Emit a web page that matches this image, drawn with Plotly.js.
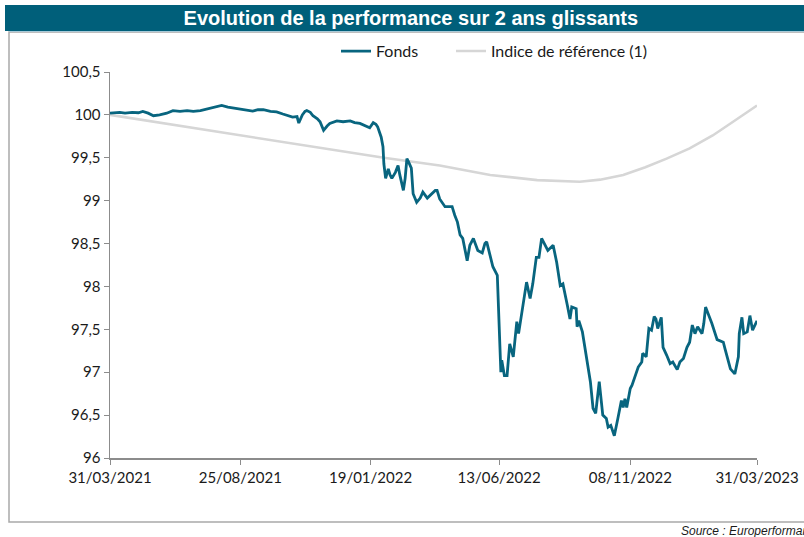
<!DOCTYPE html>
<html>
<head>
<meta charset="utf-8">
<script src="https://cdn.plot.ly/plotly-3.0.1.min.js"></script>
<style>html,body{margin:0;padding:0;background:#fff;}#chart{width:804px;height:537px;}</style>
</head>
<body>
<div id="chart"></div>
<script>
// Start date of the 2-year window; x values below are day offsets from it
const startDate = '2021-03-31';

// Fonds (fund) series: day offsets and values
const fondsDays = [0,6,11,17,25,32,37,43,49,56,64,71,79,87,94,102,109,117,126,133,139,147,155,161,167,173,181,188,195,201,206,211,213,217,220,222,226,229,234,237,241,245,248,256,263,271,276,282,289,293,297,300,302,306,308,309,311,314,316,318,322,325,327,331,333,335,337,340,342,346,350,353,358,361,367,369,372,378,386,389,392,395,398,403,406,410,415,420,423,425,429,432,437,438,439,441,442,445,448,451,455,459,461,465,470,474,477,481,484,487,491,494,500,504,508,511,516,519,521,526,527,529,533,538,542,545,548,552,556,560,562,565,569,573,577,579,581,583,587,589,592,596,600,601,605,606,608,611,614,616,618,622,624,628,632,635,640,643,647,651,654,657,660,663,668,670,672,675,679,685,688,692,694,696,700,705,709,710,713,715,719,722,725,730];
const fondsValues = [100.02,100.025,100.03,100.02,100.03,100.025,100.04,100.02,99.99,100.0,100.02,100.05,100.04,100.05,100.04,100.05,100.07,100.09,100.11,100.09,100.08,100.07,100.06,100.045,100.06,100.06,100.04,100.035,100.01,99.99,99.975,99.98,99.905,100.0,100.04,100.05,100.03,99.99,99.955,99.92,99.82,99.87,99.90,99.93,99.92,99.93,99.91,99.90,99.87,99.85,99.91,99.89,99.86,99.74,99.63,99.43,99.26,99.37,99.30,99.26,99.33,99.41,99.30,99.12,99.26,99.49,99.45,99.38,99.08,98.98,99.03,99.10,99.03,99.06,99.12,99.12,99.02,98.93,98.93,98.83,98.75,98.60,98.56,98.30,98.48,98.56,98.42,98.39,98.50,98.52,98.34,98.23,98.13,97.86,97.43,97.00,97.14,96.96,96.96,97.33,97.18,97.59,97.45,97.74,98.05,97.86,98.03,98.34,98.34,98.56,98.48,98.42,98.48,98.28,98.01,98.03,97.78,97.62,97.76,97.74,97.53,97.60,97.47,97.16,96.89,96.58,96.52,96.89,96.50,96.46,96.36,96.38,96.26,96.46,96.67,96.59,96.69,96.59,96.81,96.85,96.93,97.06,97.12,97.22,97.18,97.31,97.51,97.49,97.65,97.62,97.51,97.64,97.29,97.20,97.10,97.12,97.03,97.12,97.16,97.29,97.35,97.55,97.45,97.53,97.45,97.57,97.76,97.68,97.57,97.38,97.37,97.35,97.27,97.20,97.04,96.98,97.18,97.45,97.64,97.45,97.47,97.66,97.49,97.60];

// Indice de référence (benchmark) series
const indiceDays = [0,158,309,372,429,482,508,530,553,579,604,628,654,680,703,730];
const indiceValues = [100.0,99.745,99.50,99.41,99.30,99.24,99.225,99.22,99.245,99.30,99.39,99.49,99.61,99.76,99.92,100.11];

// Axis ticks
const xTickDates = ['2021-03-31','2021-08-25','2022-01-19','2022-06-13','2022-11-08','2023-03-31'];
const xTickLabels = ['31/03/2021','25/08/2021','19/01/2022','13/06/2022','08/11/2022','31/03/2023'];
const yTickValues = [96,96.5,97,97.5,98,98.5,99,99.5,100,100.5];
const yTickLabels = ['96','96,5','97','97,5','98','98,5','99','99,5','100','100,5'];

const seriesNames = ['Fonds','Indice de référence (1)'];
const chartTitle = 'Evolution de la performance sur 2 ans glissants';
const sourceText = 'Source : Europerformance';

function toDate(d){
  const p = startDate.split('-').map(Number);
  const t = Date.UTC(p[0], p[1]-1, p[2]) + d*86400000;
  return new Date(t).toISOString().slice(0,10);
}

const fondsTrace = {x: fondsDays.map(toDate), y: fondsValues, name: seriesNames[0], type:'scatter', mode:'lines',
   line:{color:'#08657F', width:2.8}, legend:'legend'};
const indiceTrace = {x: indiceDays.map(toDate), y: indiceValues, name: seriesNames[1], type:'scatter', mode:'lines',
   line:{color:'#D6D6D6', width:2.6}, legend:'legend2'};
// draw fund on top
const data = [indiceTrace, fondsTrace];

const font = {family:'Lato, "Open Sans", sans-serif', size:15, color:'#1a1a1a'};
const legendFont = {family:font.family, size:16, color:'#1a1a1a'};
const axisGrey = '#8C8C8C';
const xr = [xTickDates[0], xTickDates[xTickDates.length-1]];

const layout = {
  width:804, height:537,
  margin:{l:110, r:47, t:72, b:79},
  paper_bgcolor:'#fff', plot_bgcolor:'#fff',
  font:font,
  showlegend:true,
  legend:{orientation:'h', x:(336-110)/647, xanchor:'left', y:1.054, yanchor:'middle',
          font:legendFont, bgcolor:'rgba(0,0,0,0)'},
  legend2:{orientation:'h', x:(451-110)/647, xanchor:'left', y:1.054, yanchor:'middle',
          font:legendFont, bgcolor:'rgba(0,0,0,0)'},
  title:{text:'<b>'+chartTitle+'</b>', x:0.511, xanchor:'center', xref:'container',
         y:1-18/537, yanchor:'middle', yref:'container',
         font:{family:'"Liberation Sans", Arial, sans-serif', size:20, color:'#ffffff'}},
  xaxis:{type:'date', range:xr, tickvals:xTickDates, ticktext:xTickLabels,
         ticks:'outside', ticklen:5, tickcolor:axisGrey, tickwidth:1,
         showline:true, linecolor:axisGrey, linewidth:1.5, showgrid:false, zeroline:false,
         tickfont:font, fixedrange:true},
  yaxis:{range:[96,100.5], tickvals:yTickValues, ticktext:yTickLabels,
         ticks:'outside', ticklen:5, tickcolor:axisGrey, tickwidth:1,
         showline:true, linecolor:axisGrey, linewidth:1.5, showgrid:false, zeroline:false,
         tickfont:font, fixedrange:true},
  xaxis2:{type:'date', overlaying:'x', anchor:'y', side:'bottom', range:xr, tickvals:xTickDates,
          ticks:'inside', ticklen:5, tickcolor:axisGrey, tickwidth:1, showticklabels:false,
          showline:false, showgrid:false, zeroline:false},
  yaxis2:{overlaying:'y', anchor:'x', side:'left', range:[96,100.5], tickvals:yTickValues,
          ticks:'inside', ticklen:5, tickcolor:axisGrey, tickwidth:1, showticklabels:false,
          showline:false, showgrid:false, zeroline:false},
  shapes:[
    // outer frame
    {type:'rect', xref:'paper', yref:'paper', x0:(9-110)/647, x1:(808-110)/647, y0:(458-522)/386, y1:(458-32)/386,
     line:{color:'#A9A9A9', width:1.5}, fillcolor:'rgba(0,0,0,0)', layer:'below'},
    // title bar
    {type:'rect', xref:'paper', yref:'paper', x0:(5-110)/647, x1:(810-110)/647, y0:(458-31)/386, y1:(458-5)/386,
     line:{width:0}, fillcolor:'#005F7A', layer:'below'},
    // thin light line under title bar
    {type:'line', xref:'paper', yref:'paper', x0:(9-110)/647, x1:(810-110)/647, y0:(458-31.5)/386, y1:(458-31.5)/386,
     line:{color:'#A8CAD8', width:1}, layer:'below'}
  ],
  annotations:[
    {text:'<i>'+sourceText+'</i>', xref:'paper', yref:'paper', x:(679-110)/647, xanchor:'left',
     y:(458-531)/386, yanchor:'middle', showarrow:false,
     font:{family:'"Liberation Sans", Arial, sans-serif', size:12, color:'#1a1a1a'}}
  ]
};

Plotly.newPlot('chart', data, layout, {displayModeBar:false, staticPlot:true});
</script>
</body>
</html>
